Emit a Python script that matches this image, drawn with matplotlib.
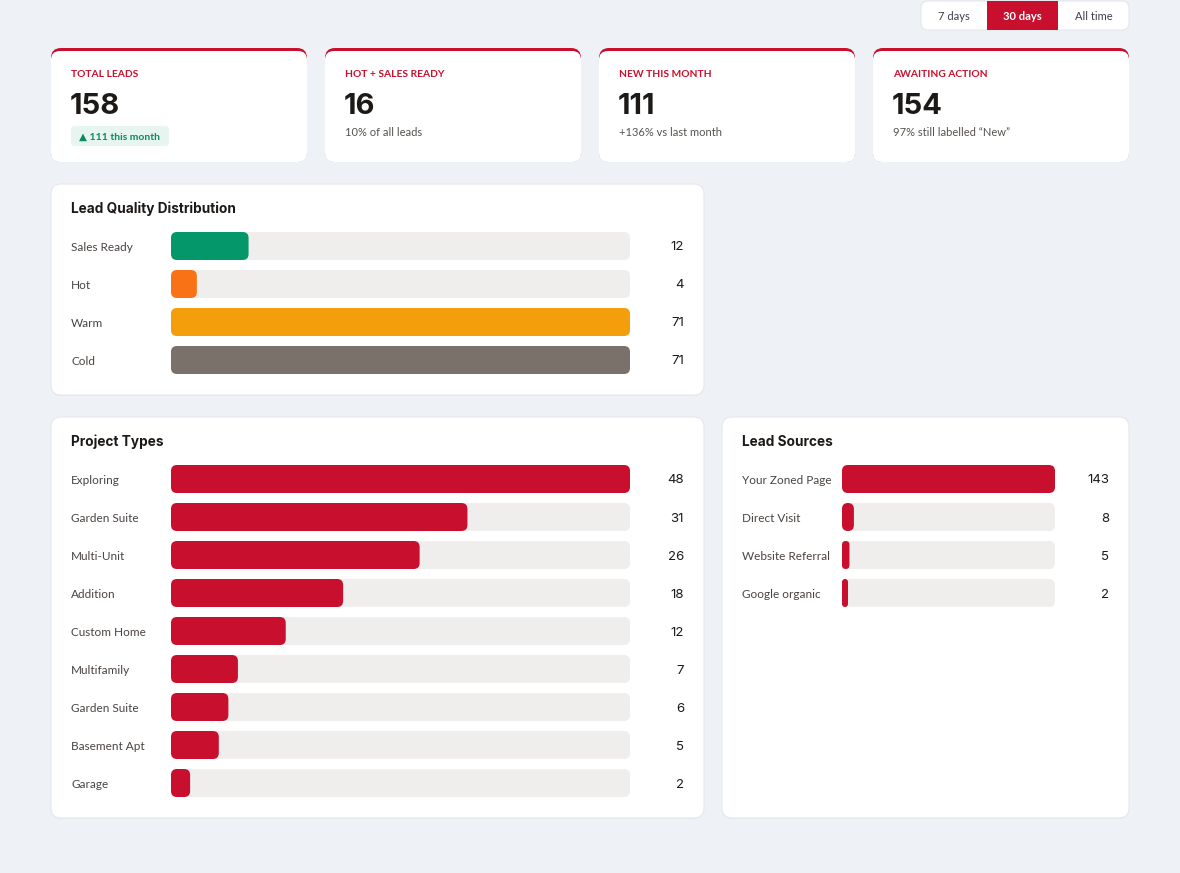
import matplotlib
matplotlib.use("Agg")
import matplotlib.pyplot as plt
from matplotlib import transforms
from matplotlib.patches import FancyBboxPatch, Rectangle

W, H = 1180, 873

# ---- data ----
range_options = ["7 days", "30 days", "All time"]
active_range = "30 days"

kpi_labels = ["TOTAL LEADS", "HOT + SALES READY", "NEW THIS MONTH", "AWAITING ACTION"]
kpi_values = ["158", "16", "111", "154"]
kpi_notes = ["\u25B2 111 this month", "10% of all leads", "+136% vs last month",
             "97% still labelled \u201cNew\u201d"]

quality_labels = ["Sales Ready", "Hot", "Warm", "Cold"]
quality_values = [12, 4, 71, 71]
quality_colors = ["#04976A", "#F97316", "#F59E0B", "#7A716B"]

project_labels = ["Exploring", "Garden Suite", "Multi-Unit", "Addition", "Custom Home",
                  "Multifamily", "Garden Suite", "Basement Apt", "Garage"]
project_values = [48, 31, 26, 18, 12, 7, 6, 5, 2]

source_labels = ["Your Zoned Page", "Direct Visit", "Website Referral", "Google organic"]
source_values = [143, 8, 5, 2]

# ---- style ----
BG = "#EEF1F6"
RED = "#C8102E"
TRACK = "#EFEEEC"
LABEL = "#4A4440"
DARK = "#1C1917"
BODY = ["Lato", "DejaVu Sans"]
HEAD = ["Inter", "DejaVu Sans"]

fig = plt.figure(figsize=(W / 100, H / 100), dpi=100)
fig.patch.set_facecolor(BG)
bg = fig.add_axes([0, 0, 1, 1])
bg.set_xlim(0, W)
bg.set_ylim(H, 0)
bg.axis("off")


def box(x, y, w, h, r, fc, ec="none", lw=0, z=1):
    p = FancyBboxPatch((x, y), w, h, boxstyle=f"round,pad=0,rounding_size={r}",
                       fc=fc, ec=ec, lw=lw, zorder=z)
    bg.add_patch(p)
    return p


def card(x, y, w, h):
    box(x, y + 1, w, h, 10, "#E3E6EB", z=0.5)
    box(x, y, w, h, 10, "white", ec="#E6E8EC", lw=0.8)


# range toggle
box(921, 1, 208, 29, 7, "white", ec="#E3E6EB", lw=0.8)
seg_w = [66, 71, 71]
sx0 = 921
for opt, sw in zip(range_options, seg_w):
    on = opt == active_range
    if on:
        bg.add_patch(Rectangle((sx0, 1), sw, 29, fc=RED, ec="none", zorder=2))
    bg.text(sx0 + sw / 2, 16.5, opt, ha="center", va="center", fontsize=8,
            family=BODY, color="white" if on else "#3F3F46",
            fontweight="bold" if on else "normal", zorder=3)
    sx0 += sw

# KPI cards
for i, (lab, val, note) in enumerate(zip(kpi_labels, kpi_values, kpi_notes)):
    x = 51 + i * 274
    box(x, 48, 256, 114, 10, RED, z=1)
    box(x, 51, 256, 111, 9, "white", z=1.1)
    bg.text(x + 20, 74.5, lab, fontsize=7.4, family=BODY, fontweight="bold",
            color=RED, va="center", zorder=3)
    bg.text(x + 19, 106, val, fontsize=21, family=HEAD, fontweight="bold",
            color=DARK, va="center", zorder=3)
    if i == 0:
        box(x + 20, 126, 98, 20, 4, "#E6F5EF", z=2)
        bg.text(x + 28, 137, note, fontsize=7.5, family=BODY, fontweight="bold",
                color="#0C8A5E", va="center", zorder=3)
    else:
        bg.text(x + 20, 132.5, note, fontsize=8, family=BODY, color="#57534E",
                va="center", zorder=3)

# panels
card(51, 184, 653, 211)
card(51, 417, 653, 401)
card(722, 417, 407, 401)
for tx, ty, title in [(71, 209, "Lead Quality Distribution"),
                      (71, 442, "Project Types"), (742, 442, "Lead Sources")]:
    bg.text(tx, ty, title, fontsize=9.8, family=HEAD, fontweight="bold",
            color=DARK, va="center", zorder=3)


def bar_panel(labels, values, colors, x_lab, x0, x1, x_val, y_first,
              row_h=38, bar_h=28, r=6, min_px=6):
    n = len(values)
    top = y_first - row_h / 2
    ax = fig.add_axes([x0 / W, 1 - (top + n * row_h) / H, (x1 - x0) / W, n * row_h / H])
    vmax = max(values)
    ax.set_xlim(0, vmax)
    ax.set_ylim(n - 0.5, -0.5)
    ax.axis("off")
    ax.patch.set_alpha(0)
    sx = vmax / (x1 - x0)
    sy = 1.0 / row_h
    bh = bar_h * sy
    tr = transforms.blended_transform_factory(bg.transData, ax.transData)
    tr = transforms.offset_copy(tr, fig=fig, y=-1.5, units="dots")
    for i, (lab, v, c) in enumerate(zip(labels, values, colors)):
        for width, col in [(vmax, TRACK), (max(v, min_px * sx), c)]:
            rr = min(r, width / sx / 2)
            ax.add_patch(FancyBboxPatch(
                (0, i - bh / 2), width, bh,
                boxstyle=f"round,pad=0,rounding_size={rr * sx}",
                mutation_aspect=sy / sx, fc=col, ec="none", clip_on=False))
        ax.text(x_lab, i, lab, transform=tr, fontsize=8.5, family=BODY,
                color=LABEL, va="center")
        ax.text(x_val, i, str(v), transform=tr, fontsize=9.5, family=HEAD,
                color=DARK, va="center", ha="right")
    return ax


bar_panel(quality_labels, quality_values, quality_colors, 71, 171, 630, 684, 246)
bar_panel(project_labels, project_values, [RED] * len(project_values),
          71, 171, 630, 684, 479)
bar_panel(source_labels, source_values, [RED] * len(source_values),
          742, 842, 1055, 1109, 479)

fig.savefig("out.png", dpi=100, facecolor=BG)
